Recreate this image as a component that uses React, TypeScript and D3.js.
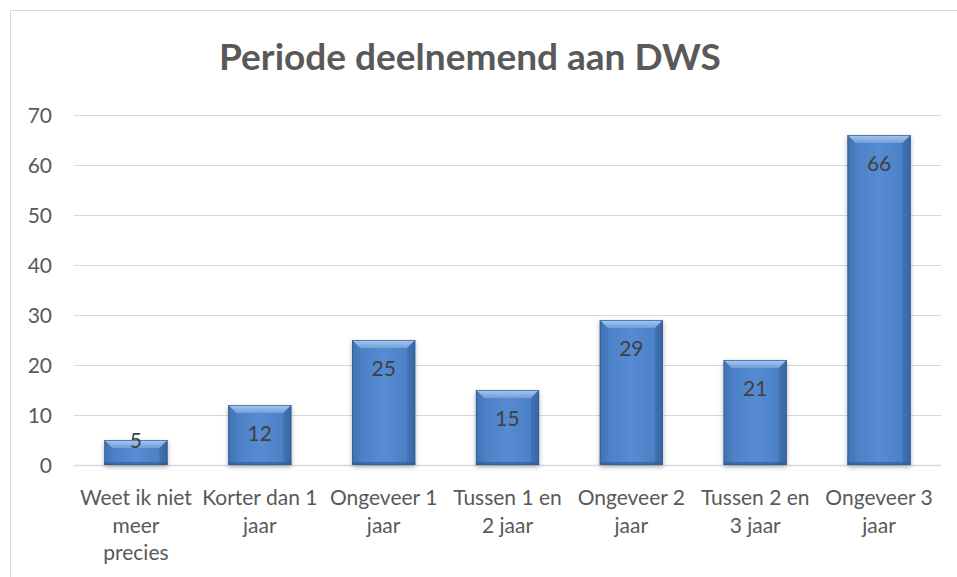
import { useEffect, useRef } from 'react';
import * as d3 from 'd3';

const title = 'Periode deelnemend aan DWS';
const categories = [
  'Weet ik niet\nmeer\nprecies',
  'Korter dan 1\njaar',
  'Ongeveer 1\njaar',
  'Tussen 1 en\n2 jaar',
  'Ongeveer 2\njaar',
  'Tussen 2 en\n3 jaar',
  'Ongeveer 3\njaar',
];
const values = [5, 12, 25, 15, 29, 21, 66];
const yTicks = [0, 10, 20, 30, 40, 50, 60, 70];

const W = 957;
const H = 577;
const FONT = 'Lato, "Open Sans", sans-serif';
const TEXT = '#595959';
const FS = 21;

const App = () => {
  const svgRef = useRef<SVGSVGElement>(null);

  useEffect(() => {
    if (!svgRef.current) return;
    const svg = d3.select(svgRef.current);
    svg.selectAll('*').remove();

    const margin = { left: 74, right: 16, top: 115, bottom: 112 };

    const x = d3.scaleBand<number>()
      .domain(d3.range(values.length))
      .range([margin.left, W - margin.right])
      .paddingInner(0.49)
      .paddingOuter(0.245);

    const y = d3.scaleLinear()
      .domain([0, 70])
      .range([H - margin.bottom, margin.top]);

    const defs = svg.append('defs');
    const body = defs.append('linearGradient').attr('id', 'barBody')
      .attr('x1', '0%').attr('x2', '100%').attr('y1', '0%').attr('y2', '0%');
    body.append('stop').attr('offset', '0%').attr('stop-color', '#3d6cab');
    body.append('stop').attr('offset', '12%').attr('stop-color', '#4c80c6');
    body.append('stop').attr('offset', '50%').attr('stop-color', '#558bd2');
    body.append('stop').attr('offset', '88%').attr('stop-color', '#4c80c6');
    body.append('stop').attr('offset', '100%').attr('stop-color', '#3d6cab');

    const topG = defs.append('linearGradient').attr('id', 'barTop')
      .attr('x1', '0%').attr('x2', '0%').attr('y1', '0%').attr('y2', '100%');
    topG.append('stop').attr('offset', '0%').attr('stop-color', '#a9c8ef');
    topG.append('stop').attr('offset', '100%').attr('stop-color', '#6f9fdc');

    const shadow = defs.append('filter').attr('id', 'shadow')
      .attr('x', '-30%').attr('y', '-10%').attr('width', '160%').attr('height', '130%');
    shadow.append('feDropShadow')
      .attr('dx', 0).attr('dy', 2).attr('stdDeviation', 2.5)
      .attr('flood-color', '#000').attr('flood-opacity', 0.3);

    // outer chart border
    svg.append('rect')
      .attr('x', 10.5).attr('y', 10.5)
      .attr('width', W).attr('height', H)
      .attr('fill', 'none').attr('stroke', '#d9d9d9').attr('stroke-width', 1);

    svg.append('text')
      .attr('x', 470).attr('y', 70)
      .attr('text-anchor', 'middle')
      .attr('font-family', FONT).attr('font-weight', 700)
      .attr('font-size', 37).attr('fill', TEXT)
      .text(title);

    // grid
    const grid = svg.append('g');
    yTicks.forEach(t => {
      grid.append('line')
        .attr('x1', margin.left).attr('x2', W - margin.right)
        .attr('y1', Math.round(y(t)) + 0.5).attr('y2', Math.round(y(t)) + 0.5)
        .attr('stroke', '#d9d9d9').attr('stroke-width', t === 0 ? 1.5 : 1);
      grid.append('text')
        .attr('x', 52).attr('y', y(t))
        .attr('dy', '0.36em')
        .attr('text-anchor', 'end')
        .attr('font-family', FONT).attr('font-size', FS).attr('fill', TEXT)
        .text(t);
    });

    const bw = x.bandwidth();
    const bev = 8;
    const bars = svg.append('g');
    values.forEach((v, i) => {
      const x0 = x(i)!;
      const x1 = x0 + bw;
      const top = y(v);
      const base = y(0);
      const b = Math.min(bev, (base - top) / 2);
      const g = bars.append('g');
      g.append('rect')
        .attr('x', x0).attr('y', top)
        .attr('width', bw).attr('height', base - top)
        .attr('fill', 'url(#barBody)')
        .attr('filter', 'url(#shadow)');
      g.append('polygon')
        .attr('points', `${x0},${top} ${x1},${top} ${x1 - b},${top + b} ${x0 + b},${top + b}`)
        .attr('fill', 'url(#barTop)');
      g.append('polygon')
        .attr('points', `${x0},${top} ${x0 + b},${top + b} ${x0 + b},${base - 2} ${x0},${base}`)
        .attr('fill', '#4577b8').attr('opacity', 0.5);
      g.append('polygon')
        .attr('points', `${x1},${top} ${x1 - b},${top + b} ${x1 - b},${base - 2} ${x1},${base}`)
        .attr('fill', '#35629e').attr('opacity', 0.5);
      g.append('rect')
        .attr('x', x0).attr('y', base - 3)
        .attr('width', bw).attr('height', 3)
        .attr('fill', '#2f5a93').attr('opacity', 0.6);
      g.append('rect')
        .attr('x', x0 + 0.5).attr('y', top + 0.5)
        .attr('width', bw - 1).attr('height', base - top - 1)
        .attr('fill', 'none').attr('stroke', '#2f5a93').attr('stroke-width', 1).attr('opacity', 0.7);

      const ly = Math.min(top + 28, base - 25);
      g.append('text')
        .attr('x', x0 + bw / 2).attr('y', ly)
        .attr('dy', '0.36em')
        .attr('text-anchor', 'middle')
        .attr('font-family', FONT).attr('font-size', FS).attr('fill', '#404040')
        .text(v);
    });

    // category labels
    const labels = svg.append('g');
    categories.forEach((c, i) => {
      const t = labels.append('text')
        .attr('x', x(i)! + bw / 2)
        .attr('y', 505)
        .attr('text-anchor', 'middle')
        .attr('font-family', FONT).attr('font-size', FS).attr('fill', TEXT);
      c.split('\n').forEach((line, k) => {
        t.append('tspan')
          .attr('x', x(i)! + bw / 2)
          .attr('dy', k === 0 ? 0 : 27.5)
          .text(line);
      });
    });
  }, []);

  return (
    <svg
      ref={svgRef}
      width={W}
      height={H}
      style={{ position: 'absolute', left: 0, top: 0, background: '#fff' }}
    />
  );
};

export default App;
